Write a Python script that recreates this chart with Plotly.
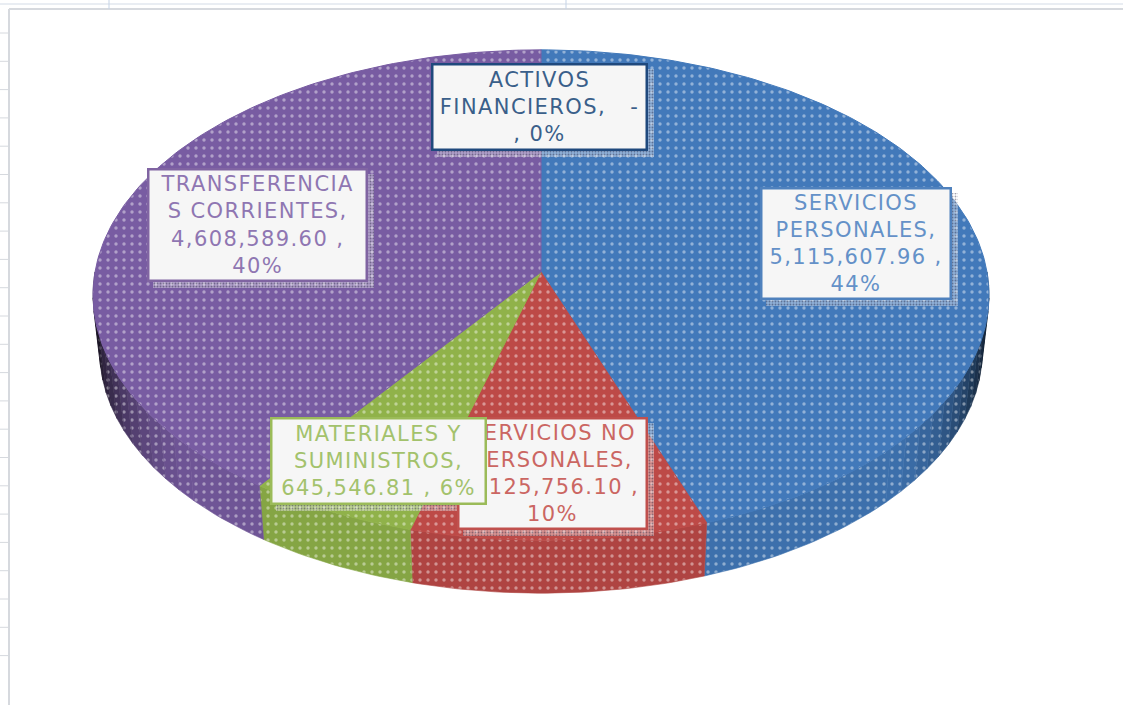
import math
import plotly.graph_objects as go

# ---- data ----
categories = ["SERVICIOS PERSONALES", "SERVICIOS NO PERSONALES", "MATERIALES Y SUMINISTROS",
              "TRANSFERENCIAS CORRIENTES", "ACTIVOS FINANCIEROS"]
values = [5115607.96, 1125756.10, 645546.81, 4608589.60, 0.0]
colors = ["#4279ba", "#bd4a47", "#90b24a", "#785ca2", "#1f497d"]
label_texts = [
    "SERVICIOS<br>PERSONALES,<br>5,115,607.96 ,<br>44%",
    "SERVICIOS NO<br>PERSONALES,<br>1,125,756.10 ,<br>10%",
    "MATERIALES Y<br>SUMINISTROS,<br>645,546.81 , 6%",
    "TRANSFERENCIA<br>S CORRIENTES,<br>4,608,589.60 ,<br>40%",
    "ACTIVOS<br>FINANCIEROS,   -<br>, 0%",
]
text_colors = ["#6491c8", "#cb6662", "#a3c26c", "#8f76b2", "#3a5f8a"]
border_colors = ["#4f81bd", "#c0504d", "#9bbb59", "#8064a2", "#1f497d"]
# label boxes: x0, x1, y0, y1 in picture pixels (same order as categories)
label_boxes = [(760, 952, 187, 300), (457, 648, 417, 530), (270, 487, 417, 505),
               (147, 368, 168, 282), (431, 648, 63, 151)]

# ---- layout of the tilted disc ----
W, H = 1123, 705
CX, CY, RX, RY, K = 541, 272, 446, 243, 0.0939
BOTTOM_SCALE, DEPTH = 0.985, 57


def project(angle_deg, lower=False):
    a = math.radians(angle_deg)
    u, v = math.sin(a), -math.cos(a)
    s = 1 / (1 - K * v)
    f = BOTTOM_SCALE if lower else 1.0
    return CX + RX * u * s * f, CY + RY * v * s * f + (DEPTH if lower else 0)


def shade(hex_color, f):
    r, g, b = (int(hex_color[i:i + 2], 16) for i in (1, 3, 5))
    return f"rgb({int(r * f)},{int(g * f)},{int(b * f)})"


def arc(a0, a1, n):
    return [a0 + (a1 - a0) * i / n for i in range(n + 1)]


def pattern(bg):
    return dict(shape=".", fgcolor="rgba(255,255,255,0.85)", bgcolor=bg, size=8, solidity=0.14)


def wall_shade(angle):
    u = abs(math.sin(math.radians(angle)))
    return round(0.93 - 0.72 * max(0, (u - 0.72) / 0.28) ** 2, 2)


fig = go.Figure()
total = sum(values)
edges = [0.0]
for val in values:
    edges.append(edges[-1] + val / total * 360)

# side wall, front half only; steps of equal shade are merged into one polygon
STEP = 3
for i, col in enumerate(colors):
    a0, a1 = max(edges[i], 90), min(edges[i + 1], 270)
    if a1 <= a0:
        continue
    angles = arc(a0, a1, max(1, int((a1 - a0) / STEP)))
    runs = []
    for p, q in zip(angles[:-1], angles[1:]):
        f = wall_shade((p + q) / 2)
        if runs and runs[-1][0] == f:
            runs[-1][1].append(q)
        else:
            runs.append((f, [p, q]))
    for f, run in runs:
        fine = arc(run[0], run[-1], max(1, int(run[-1] - run[0])))
        pts = [project(a) for a in fine] + [project(a, True) for a in reversed(fine)]
        pts.append(pts[0])
        fig.add_trace(go.Scatter(x=[t[0] for t in pts], y=[t[1] for t in pts], mode="lines",
                                 line=dict(width=0.6, color=shade(col, f)), fill="toself",
                                 fillpattern=pattern(shade(col, f)), hoverinfo="skip"))

# top face
for i, (name, col) in enumerate(zip(categories, colors)):
    if values[i] <= 0:
        continue
    angles = arc(edges[i], edges[i + 1], max(2, int(edges[i + 1] - edges[i])))
    pts = [(CX, CY)] + [project(a) for a in angles] + [(CX, CY)]
    fig.add_trace(go.Scatter(x=[t[0] for t in pts], y=[t[1] for t in pts], mode="lines", name=name,
                             line=dict(width=1, color=col), fill="toself",
                             fillpattern=pattern(col), hoverinfo="name"))

# stippled label shadows
for (x0, x1, y0, y1), col in zip(label_boxes, border_colors):
    xs = [x0 + 6, x1 + 6, x1 + 6, x0 + 6, x0 + 6]
    ys = [y0 + 6, y0 + 6, y1 + 6, y1 + 6, y0 + 6]
    fig.add_trace(go.Scatter(x=xs, y=ys, mode="none", fill="toself", hoverinfo="skip",
                             fillpattern=dict(shape=".", fgcolor="rgba(20,20,50,0.8)",
                                              bgcolor="rgba(255,255,255,0.4)", size=3, solidity=0.3)))

# labels
annotations = []
for idx in [0, 4, 3, 1, 2]:
    x0, x1, y0, y1 = label_boxes[idx]
    annotations.append(dict(x=(x0 + x1) / 2, y=(y0 + y1) / 2, xref="x", yref="y", text=label_texts[idx],
                            showarrow=False, xanchor="center", yanchor="middle", align="center",
                            width=x1 - x0 - 5, height=y1 - y0 - 5, borderpad=0,
                            bgcolor="#f6f6f6", bordercolor=border_colors[idx], borderwidth=2.5,
                            font=dict(family="DejaVu Sans", size=21, color=text_colors[idx])))

# worksheet frame and row ticks behind the chart
GRID = "#d6d9de"
shapes = [
    dict(type="line", x0=9, x1=9, y0=9, y1=H, line=dict(color=GRID, width=2), layer="below"),
    dict(type="line", x0=9, x1=W, y0=9, y1=9, line=dict(color=GRID, width=2), layer="below"),
    dict(type="line", x0=0, x1=W, y0=4, y1=4, line=dict(color="#d3dbe6", width=1), layer="below"),
    dict(type="line", x0=109, x1=109, y0=0, y1=9, line=dict(color="#c5d3e6", width=1), layer="below"),
    dict(type="line", x0=566, x1=566, y0=0, y1=9, line=dict(color="#c5d3e6", width=1), layer="below"),
]
for r in range(23):
    y = 33 + 28.3 * r
    shapes.append(dict(type="line", x0=0, x1=9, y0=y, y1=y, line=dict(color=GRID, width=1), layer="below"))

fig.update_layout(
    width=W, height=H, margin=dict(l=0, r=0, t=0, b=0), showlegend=False,
    paper_bgcolor="white", plot_bgcolor="white", annotations=annotations, shapes=shapes,
    xaxis=dict(range=[0, W], visible=False, fixedrange=True),
    yaxis=dict(range=[H, 0], visible=False, fixedrange=True),
)
post = ("document.body.style.margin='0';"
        "document.querySelectorAll('.annotation-text').forEach(function(e){e.style.letterSpacing='1.4px';});")
fig.write_html("out.html", post_script=post, config={"displayModeBar": False})
